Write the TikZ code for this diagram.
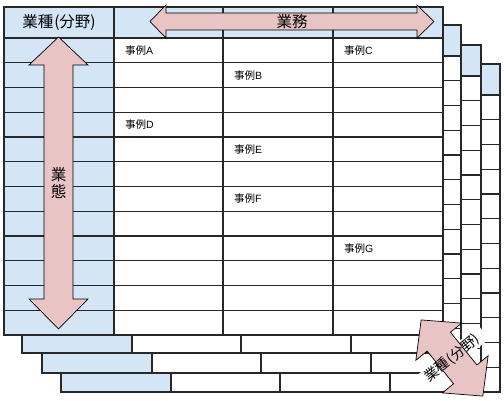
\documentclass[tikz,border=0pt]{standalone}
\usepackage{fontspec}
\setmainfont{Liberation Sans}
\newfontfamily\jp{Noto Sans CJK JP}
\definecolor{hdrblue}{RGB}{212,229,246}
\definecolor{arrpink}{RGB}{233,196,197}
\definecolor{gridc}{RGB}{40,40,40}
\newcommand\rei[1]{{\jp 事例}#1}
\newcommand\mytable[1]{%
  \begin{scope}[shift={(#1,#1)}]
    \fill[white] (4,7) rectangle (443,335);
    \fill[hdrblue] (4,7) rectangle (443,38);
    \fill[hdrblue] (4,7) rectangle (114,335);
    \foreach \i in {0,...,11} \draw[gridline] (4,{38+24.75*\i}) -- (443,{38+24.75*\i});
    \foreach \xx in {114,223,333} \draw[gridline] (\xx,7) -- (\xx,335);
    \draw[gridline] (4,7) rectangle (443,335);
  \end{scope}}
\begin{document}
\begin{tikzpicture}[x=1pt,y=-1pt,
  gridline/.style={draw=gridc,line width=1.2pt},
  bigarrow/.style={fill=arrpink,draw=black,line width=0.7pt,line join=miter},
  cell/.style={font=\fontsize{10.5}{12}\selectfont,anchor=west,inner sep=0pt},
  biglabel/.style={font=\jp\fontsize{15.5}{17}\selectfont,inner sep=0pt}]
\useasboundingbox (0,0) rectangle (504,401);
% stacked tables, back to front
\mytable{57}
\mytable{38}
\mytable{18}
\mytable{0}
% case labels
\node[cell] (ca) at (125,50.4)  {\rei{A}};
\node[cell] (cb) at (234,75.1)  {\rei{B}};
\node[cell] (cc) at (344,50.4)  {\rei{C}};
\node[cell] (cd) at (125,124.6) {\rei{D}};
\node[cell] (ce) at (234,149.4) {\rei{E}};
\node[cell] (cf) at (234,198.9) {\rei{F}};
\node[cell] (cg) at (344,248.4) {\rei{G}};
% header label
\node[biglabel] (hdr) at (59,23) {業種\kern1pt(分野)};
% horizontal double arrow
\draw[bigarrow] (150,21.5) -- (166,5) -- (166,13) -- (417,13) -- (417,5) -- (434,21.5)
  -- (417,38) -- (417,30) -- (166,30) -- (166,38) -- cycle;
\node[biglabel] (gyomu) at (292,21.5) {業務};
% vertical double arrow
\draw[bigarrow] (58.5,37) -- (88,65) -- (73,65) -- (73,299) -- (88,299) -- (58.5,329)
  -- (29,299) -- (44,299) -- (44,65) -- (29,65) -- cycle;
\node[biglabel,align=center] (gyotai) at (58.5,183) {業\\態};
% diagonal double arrow (third axis)
\node[fill=white,rotate=39,minimum width=82pt,minimum height=17pt,inner sep=0pt] (mask) at (452,358) {};
\begin{scope}[shift={(452,358)},rotate=39]
\draw[bigarrow] (0,-49) -- (29.5,-21) -- (15,-21) -- (15,21) -- (29.5,21) -- (0,49)
  -- (-29.5,21) -- (-15,21) -- (-15,-21) -- (-29.5,-21) -- cycle;
\end{scope}
\node[font=\jp\fontsize{14}{15}\selectfont,rotate=39,inner sep=0pt] (diag) at (452,358) {業種\kern1pt(分野)};
\end{tikzpicture}
\end{document}
